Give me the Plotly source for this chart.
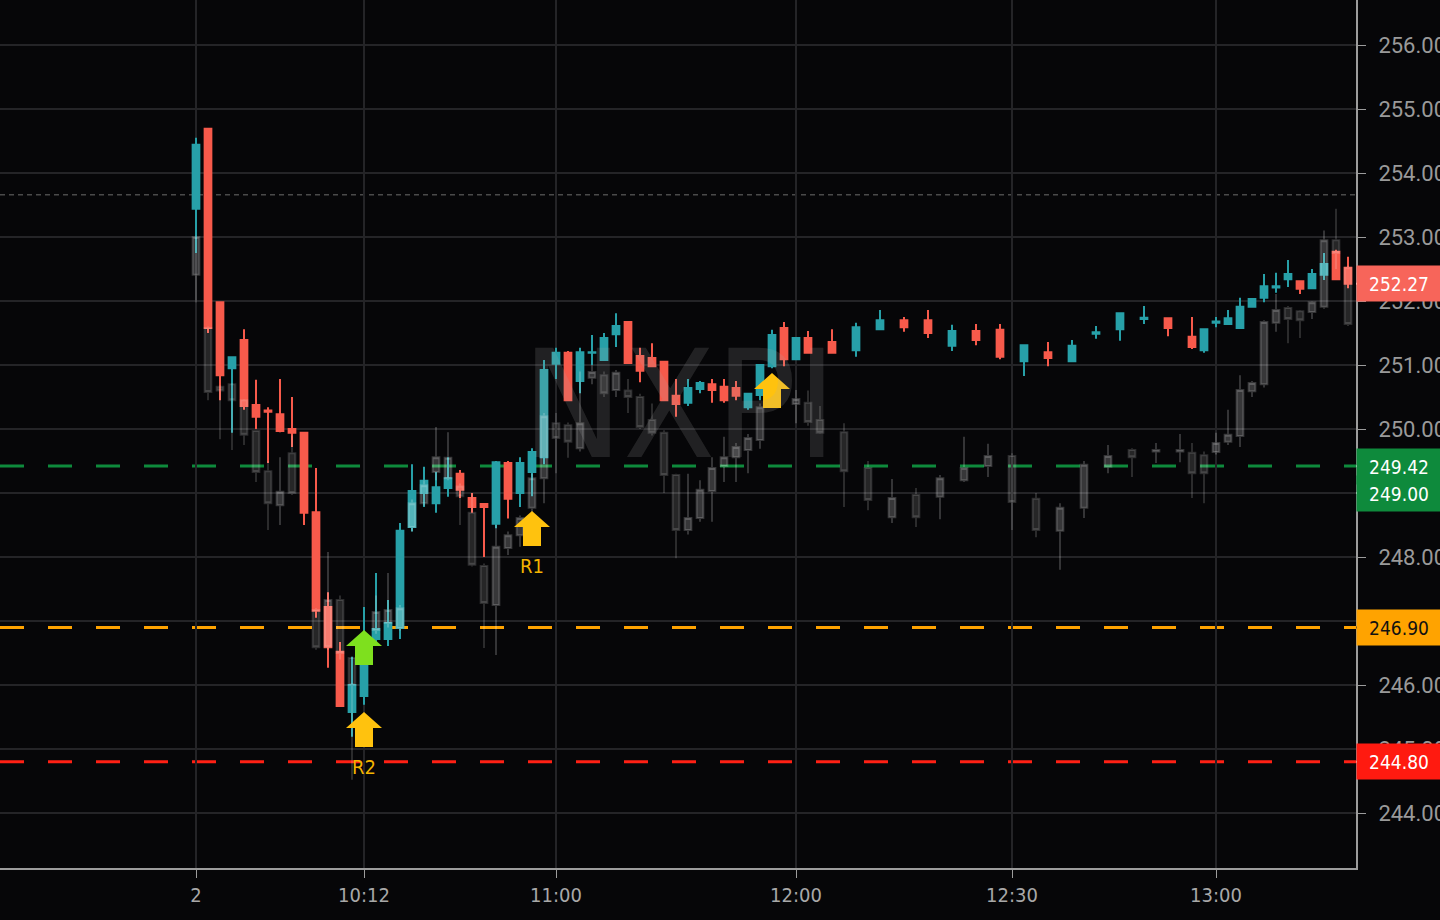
import plotly.graph_objects as go

# ---------------- data ----------------
# main (coloured) candles: bar index, open, high, low, close
c_idx = list(range(0, 52)) + [53, 55, 57, 59, 61, 63, 65, 67, 69, 71, 73, 75, 77, 79, 81] + list(range(83, 97))
c_open = [253.44, 254.69, 251.98, 250.95, 251.39, 250.375, 250.29, 250.23, 250.00, 249.94,
          248.70, 247.22, 246.52, 245.58, 245.83, 246.72, 246.72, 246.89, 248.47, 249.00,
          248.84, 249.08, 249.30, 248.92, 248.83, 248.52, 249.47, 249.00, 249.33, 249.56,
          251.02, 251.19, 250.75, 251.19, 251.08, 251.48, 251.67, 251.14, 251.11, 251.05,
          250.52, 250.41, 250.625, 250.70, 250.66, 250.64, 250.34, 250.53, 250.98, 251.58,
          251.09, 251.42,
          251.36, 251.23, 251.56, 251.70, 251.70, 251.30, 251.53, 251.55, 251.06, 251.20,
          251.06, 251.49, 251.56, 251.72, 251.73,
          251.44, 251.23, 251.66, 251.64, 251.58, 251.91, 252.05, 252.21, 252.34, 252.31,
          252.20, 252.41, 252.77, 252.52]
c_high = [254.55, 254.70, 251.98, 251.12, 251.56, 250.77, 250.34, 250.78, 250.50, 249.94,
          249.39, 247.45, 246.67, 246.44, 247.22, 247.75, 247.33, 248.53, 249.45, 249.41,
          249.33, 249.56, 249.36, 249.00, 248.83, 249.50, 249.50, 249.56, 249.70, 251.08,
          251.27, 251.22, 251.27, 251.47, 251.50, 251.81, 251.67, 251.27, 251.34, 251.05,
          250.78, 250.78, 250.75, 250.78, 250.78, 250.75, 250.55, 251.00, 251.55, 251.67,
          251.42, 251.53,
          251.56, 251.66, 251.86, 251.75, 251.86, 251.63, 251.64, 251.64, 251.31, 251.36,
          251.39, 251.61, 251.81, 251.92, 251.73,
          251.75, 251.56, 251.75, 251.86, 252.05, 252.03, 252.42, 252.44, 252.64, 252.31,
          252.50, 252.75, 252.80, 252.69]
c_low = [252.75, 251.50, 250.45, 249.94, 250.30, 250.00, 249.47, 249.95, 249.72, 248.50,
         247.05, 246.27, 245.67, 245.19, 245.69, 246.65, 246.61, 246.72, 248.40, 248.78,
         248.69, 248.94, 248.92, 248.69, 248.00, 248.45, 248.60, 248.78, 248.95, 249.45,
         250.78, 250.45, 250.56, 251.00, 251.08, 251.28, 251.03, 250.73, 250.98, 250.45,
         250.19, 250.36, 250.56, 250.41, 250.41, 250.45, 250.30, 250.45, 250.95, 250.98,
         251.09, 251.19,
         251.19, 251.13, 251.56, 251.52, 251.42, 251.22, 251.31, 251.09, 250.83, 250.98,
         251.06, 251.41, 251.38, 251.64, 251.45,
         251.25, 251.19, 251.59, 251.64, 251.58, 251.91, 251.98, 252.13, 252.22, 252.11,
         252.20, 252.33, 252.34, 252.20]
c_close = [254.44, 251.58, 250.84, 251.12, 250.36, 250.19, 250.27, 249.97, 249.94, 248.69,
           247.16, 246.59, 245.67, 246.00, 246.31, 246.875, 246.97, 248.41, 249.03, 249.19,
           249.09, 249.23, 249.05, 248.78, 248.78, 249.48, 248.91, 249.47, 249.64, 250.92,
           251.19, 250.45, 251.20, 251.20, 251.42, 251.61, 251.03, 250.91, 250.98, 250.45,
           250.39, 250.64, 250.72, 250.61, 250.45, 250.52, 250.55, 251.00, 251.47, 251.09,
           251.42, 251.19,
           251.19, 251.59, 251.70, 251.59, 251.50, 251.53, 251.39, 251.13, 251.31, 251.11,
           251.30, 251.51, 251.81, 251.74, 251.58,
           251.28, 251.56, 251.68, 251.73, 251.91, 252.03, 252.23, 252.23, 252.42, 252.19,
           252.42, 252.58, 252.34, 252.27]

# ghost (grey) candles
g_idx = [0, 1, 2, 3, 4, 5, 6, 7, 8, 10, 11, 12, 13, 15, 16, 17, 18, 19, 20, 21, 22, 23, 24, 25,
         26, 27, 28, 29, 30, 31, 32, 33, 34, 35, 36, 37, 38, 39, 40, 41, 42, 43, 44, 45, 46, 47,
         50, 51, 52, 54, 56, 58, 60, 62, 64, 66, 68, 70, 72, 74, 76, 78, 80, 82, 83, 84, 85, 86,
         87, 88, 89, 90, 91, 92, 93, 94, 95, 96]
g_open = [252.41, 251.58, 250.66, 250.70, 250.45, 249.97, 249.34, 248.81, 249.62, 247.17, 246.60,
          247.33, 246.42, 246.86, 246.97, 246.89, 248.47, 248.84, 249.33, 249.23, 249.10, 248.69,
          247.86, 247.25, 248.14, 248.34, 248.77, 249.23, 250.09, 250.06, 249.70, 250.80, 250.84,
          250.61, 250.60, 250.50, 250.14, 249.94, 249.28, 248.42, 248.61, 249.03, 249.42, 249.56,
          249.67, 249.83, 250.39, 250.41, 250.14, 249.95, 249.39, 248.62, 248.97, 248.94, 249.20,
          249.42, 249.58, 248.91, 248.41, 248.77, 249.41, 249.67, 249.65, 249.65, 249.63, 249.59,
          249.64, 249.80, 249.89, 250.59, 250.70, 251.66, 251.89, 251.84, 251.83, 251.91, 252.95,
          252.52]
g_high = [253.02, 251.60, 250.68, 250.72, 250.47, 249.99, 249.50, 249.56, 249.90, 247.20, 248.08,
          247.40, 246.44, 247.40, 247.75, 247.25, 248.90, 249.20, 250.03, 249.95, 249.15, 249.00,
          247.90, 248.50, 248.40, 248.65, 249.30, 250.25, 250.25, 250.10, 250.90, 251.00, 250.90,
          250.92, 250.78, 250.55, 250.40, 249.98, 249.30, 249.30, 249.20, 249.56, 249.88, 249.78,
          249.92, 250.40, 250.61, 250.60, 250.36, 250.09, 249.50, 249.22, 249.08, 249.28, 249.88,
          249.77, 249.62, 249.00, 248.84, 249.50, 249.75, 249.70, 249.78, 249.92, 249.78, 249.65,
          249.94, 250.30, 250.84, 250.75, 251.70, 252.11, 251.92, 251.86, 252.00, 253.10, 253.44,
          252.55]
g_low = [251.98, 250.45, 249.84, 249.67, 249.75, 249.17, 248.42, 248.50, 248.97, 246.55, 246.55,
         246.40, 244.52, 246.80, 246.90, 246.85, 248.40, 248.80, 249.20, 249.20, 248.50, 247.85,
         246.58, 246.47, 248.03, 248.16, 248.70, 248.84, 249.31, 249.55, 249.65, 250.70, 250.50,
         250.50, 250.25, 250.00, 249.90, 249.00, 247.98, 248.35, 248.55, 248.55, 249.17, 249.17,
         249.31, 249.69, 250.09, 250.05, 249.92, 248.78, 248.73, 248.53, 248.47, 248.59, 249.17,
         249.25, 248.42, 248.31, 247.80, 248.61, 249.31, 249.25, 249.47, 249.48, 248.92, 248.84,
         249.60, 249.75, 249.72, 250.50, 250.65, 251.52, 251.34, 251.42, 251.72, 251.88, 252.50,
         251.61]
g_close = [253.00, 250.58, 250.60, 250.45, 249.91, 249.33, 248.84, 249.02, 249.00, 246.59, 247.33,
           246.50, 246.00, 247.14, 247.17, 247.20, 248.84, 249.12, 249.56, 249.55, 248.95, 247.88,
           247.28, 248.16, 248.34, 248.61, 249.23, 250.20, 249.86, 249.80, 250.09, 250.89, 250.56,
           250.88, 250.50, 250.03, 249.94, 249.28, 248.42, 248.61, 249.05, 249.39, 249.56, 249.72,
           249.86, 250.34, 250.47, 250.11, 249.94, 249.34, 248.89, 248.92, 248.62, 249.23, 249.39,
           249.58, 248.86, 248.42, 248.77, 249.44, 249.58, 249.56, 249.67, 249.67, 249.31, 249.31,
           249.78, 249.91, 250.61, 250.72, 251.67, 251.86, 251.72, 251.70, 251.98, 252.95, 252.75,
           251.64]

# x-axis tick labels
tick_idx = [0, 14, 30, 50, 68, 85]
tick_text = ["2", "10:12", "11:00", "12:00", "12:30", "13:00"]

# y-axis ticks (labels hidden where a price tag fully covers them)
ytick_vals = [244, 245, 246, 247, 248, 249, 250, 251, 252, 253, 254, 255, 256]
ytick_text = ["244.00", "245.00", "246.00", "", "248.00", "", "250.00", "251.00", "252.00",
              "253.00", "254.00", "255.00", "256.00"]

# horizontal levels
level_prices = [249.42, 246.90, 244.80]
level_colors = ["#0e8a3c", "#ffa300", "#ff2014"]
dotted_prices = [249.00, 253.66]
dotted_colors = ["#17683a", "#4a4a4a"]

# right-hand price tags
tag_prices = [252.27, 249.42, 249.00, 246.90, 244.80]
tag_text = ["252.27", "249.42", "249.00", "246.90", "244.80"]
tag_bg = ["#f7655a", "#0e8a3c", "#0e8a3c", "#ffa300", "#ff1a10"]
tag_fg = ["#ffffff", "#ffffff", "#ffffff", "#111111", "#ffffff"]

# signal arrows
arrow_idx = [14, 14, 28, 48]
arrow_price = [245.58, 246.86, 248.72, 250.875]
arrow_color = ["#ffc20e", "#7ee01e", "#ffc20e", "#ffc20e"]
arrow_label = ["R2", "", "R1", ""]

watermark = "NXPI"

# ---------------- figure ----------------
BG = "#060608"
NARROW = "Liberation Sans Narrow, DejaVu Sans Condensed, Roboto, sans-serif"

fig = go.Figure()

fig.add_trace(go.Candlestick(
    x=c_idx, open=c_open, high=c_high, low=c_low, close=c_close,
    increasing=dict(line=dict(color="#27a0a8", width=2), fillcolor="#27a0a8"),
    decreasing=dict(line=dict(color="#f75a4b", width=2), fillcolor="#f75a4b"),
    showlegend=False, hoverinfo="skip",
))
fig.add_trace(go.Candlestick(
    x=g_idx, open=g_open, high=g_high, low=g_low, close=g_close,
    increasing=dict(line=dict(color="rgba(255,255,255,0.19)", width=2), fillcolor="rgba(255,255,255,0.20)"),
    decreasing=dict(line=dict(color="rgba(255,255,255,0.15)", width=2), fillcolor="rgba(255,255,255,0.13)"),
    showlegend=False, hoverinfo="skip",
))

shapes = []
for p, col in zip(level_prices, level_colors):
    shapes.append(dict(type="line", xref="paper", yref="y", x0=0, x1=1, y0=p, y1=p,
                       line=dict(color=col, width=3, dash="24px,24px"), layer="between"))
for p, col in zip(dotted_prices, dotted_colors):
    shapes.append(dict(type="line", xref="paper", yref="y", x0=0, x1=1, y0=p, y1=p,
                       line=dict(color=col, width=1.5, dash="5px,4px"), layer="between"))

annotations = []
for p, t, bg, fg in zip(tag_prices, tag_text, tag_bg, tag_fg):
    annotations.append(dict(xref="paper", yref="y", x=1, y=p, xanchor="left", yanchor="middle",
                            text=t, showarrow=False, bgcolor=bg, width=84, height=35,
                            borderpad=0, align="center",
                            font=dict(family=NARROW, size=19, color=fg)))
    shapes.append(dict(type="line", xref="paper", yref="y", x0=1, x1=1.0055, y0=p, y1=p,
                       line=dict(color=fg, width=2), layer="above"))

for xi, p, col, lab in zip(arrow_idx, arrow_price, arrow_color, arrow_label):
    shapes.append(dict(type="path", xref="x", yref="y", xsizemode="pixel", ysizemode="pixel",
                       xanchor=xi, yanchor=p,
                       path="M 0 0 L 18 -16 L 9 -16 L 9 -35 L -9 -35 L -9 -16 L -18 -16 Z",
                       fillcolor=col, line=dict(width=0), layer="above"))
    if lab:
        annotations.append(dict(x=xi, y=p, xref="x", yref="y", text=lab, showarrow=False,
                                yshift=-55, font=dict(family=NARROW, size=20, color="#f4b400")))

annotations.append(dict(x=40.3, y=250.38, xref="x", yref="y", text=watermark, showarrow=False,
                        font=dict(family=NARROW, size=150, color="rgba(170,170,170,0.17)")))

fig.update_layout(
    width=1440, height=920,
    margin=dict(l=0, r=84, t=0, b=52, pad=0, autoexpand=False),
    paper_bgcolor=BG, plot_bgcolor=BG,
    boxgap=0.2,
    shapes=shapes, annotations=annotations,
    showlegend=False,
    xaxis=dict(range=[-196 / 12, (1356 - 196) / 12], rangeslider=dict(visible=False),
               automargin=False,
               tickmode="array", tickvals=tick_idx, ticktext=tick_text,
               showgrid=True, gridcolor="#242427", gridwidth=2, zeroline=False,
               showline=True, linecolor="#9c9c9c", linewidth=2,
               ticks="outside", ticklen=8, tickcolor="#9c9c9c", tickwidth=1,
               tickfont=dict(family=NARROW, size=20, color="#a8a8a8")),
    yaxis=dict(range=[256 - 823 / 64, 256 + 45 / 64], side="right", automargin=False,
               tickmode="array", tickvals=ytick_vals, ticktext=ytick_text,
               showgrid=True, gridcolor="#242427", gridwidth=2, zeroline=False,
               showline=True, linecolor="#9c9c9c", linewidth=2,
               ticks="outside", ticklen=8, tickcolor="#9c9c9c", tickwidth=1,
               ticklabelstandoff=8,
               tickfont=dict(family="Roboto, Liberation Sans, sans-serif", size=22, color="#9a9a9a")),
)

fig.write_html("out.html", config={"displayModeBar": False},
               post_script="document.body.style.margin='0';document.body.style.overflow='hidden';")
